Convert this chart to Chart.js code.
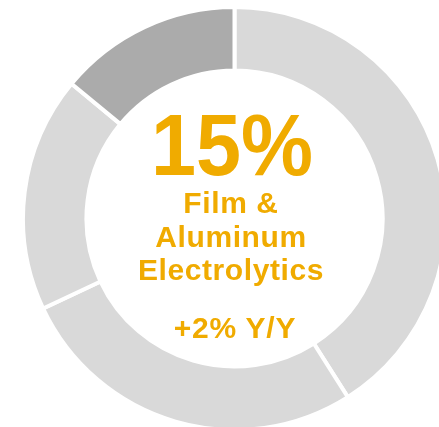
<!DOCTYPE html>
<html>
<head>
<meta charset="utf-8">
<script src="https://cdn.jsdelivr.net/npm/chart.js@4"></script>
<style>
  html, body { margin: 0; padding: 0; background: #fff; }
  body { width: 439px; height: 427px; overflow: hidden; position: relative; font-family: "Liberation Sans", Arial, sans-serif; }
  #ring { position: absolute; left: 21px; top: 5px; }
  .lbl { position: absolute; color: #f0ab00; font-weight: bold; text-align: center; white-space: nowrap; }
  #big { left: 82px; width: 300px; top: 101px; font-size: 88px; line-height: 88px; transform: scaleX(0.92); transform-origin: 150px 50%; }
  #name { left: 81px; width: 300px; top: 186px; font-size: 30px; line-height: 33.5px; letter-spacing: 0.6px; }
  #growth { left: 85px; width: 300px; top: 313px; font-size: 30px; line-height: 30px; letter-spacing: 0.8px; }
</style>
</head>
<body>
<canvas id="ring" width="427" height="427"></canvas>
<div class="lbl" id="big">15%</div>
<div class="lbl" id="name">Film &amp;<br>Aluminum<br>Electrolytics</div>
<div class="lbl" id="growth">+2% Y/Y</div>
<script>
// segment shares, clockwise from 12 o'clock
const segments = ['Other A', 'Other B', 'Other C', 'Film & Aluminum Electrolytics'];
const shares = [41, 27, 18, 14];
const segColors = ['#d9d9d9', '#d9d9d9', '#d9d9d9', '#ababab'];

const ctx = document.getElementById('ring').getContext('2d');
const ringChart = new Chart(ctx, {
    type: 'doughnut',
    data: {
        labels: segments,
        datasets: [{
            data: shares,
            backgroundColor: segColors,
            borderColor: '#ffffff',
            borderWidth: 4
        }]
    },
    options: {
        responsive: false,
        animation: false,
        cutout: '70%',
        plugins: {
            legend: { display: false },
            tooltip: { enabled: false }
        }
    }
});
</script>
</body>
</html>
